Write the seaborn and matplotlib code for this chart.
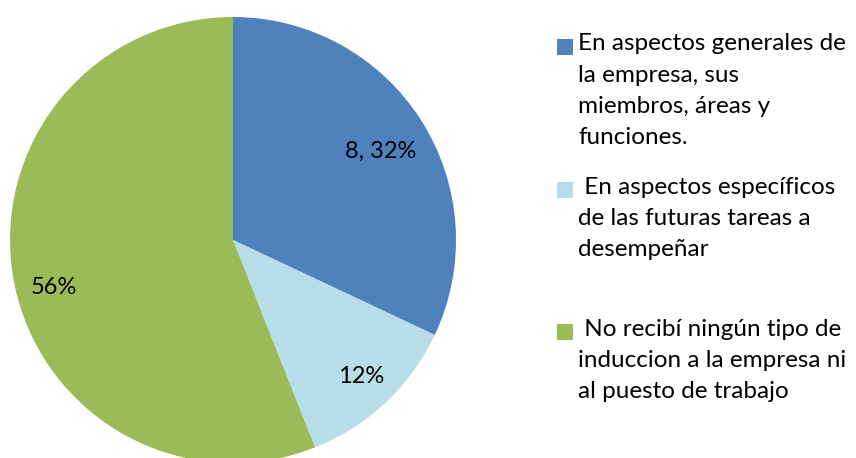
import matplotlib
matplotlib.use("Agg")
import matplotlib.pyplot as plt
import seaborn as sns
import numpy as np
from matplotlib.patches import Rectangle

# data
categorias = [
    "En aspectos generales de\nla empresa, sus\nmiembros, áreas y\nfunciones.",
    " En aspectos específicos\nde las futuras tareas a\ndesempeñar",
    " No recibí ningún tipo de\ninduccion a la empresa ni\nal puesto de trabajo",
]
porcentajes = [32, 12, 56]
etiquetas = ["8, 32%", "12%", "56%"]
colores = ["#4F81BD", "#B7DEE8", "#9BBB59"]

sns.set_style("white")
plt.rcParams["font.family"] = ["Lato", "DejaVu Sans"]

W, H = 856, 458
fig = plt.figure(figsize=(W / 100, H / 100), dpi=100)

# pie area: circle centre (233, 240), radius 223 px
cx, cy, r = 233, 240, 223
ax = fig.add_axes([(cx - r) / W, (H - cy - r) / H, 2 * r / W, 2 * r / H])
wedges, _ = ax.pie(porcentajes, colors=colores, startangle=90, counterclock=False,
                   radius=1, wedgeprops=dict(linewidth=0))
ax.set_xlim(-1, 1)
ax.set_ylim(-1, 1)
ax.set_aspect("auto")
ax.axis("off")

# percentage labels (distance from centre, small angle shift like Excel's placement)
dist = [0.77, 0.84, 0.83]
shift = [-1.5, 0.0, 4.0]
for w, lab, d, s in zip(wedges, etiquetas, dist, shift):
    ang = np.deg2rad((w.theta1 + w.theta2) / 2 + s)
    ax.text(d * np.cos(ang), d * np.sin(ang), lab, ha="center", va="center",
            fontsize=17, color="black")

# legend entries (first line centre y in px)
entradas_y = [46.5, 190, 332]
for txt, col, y in zip(categorias, colores, entradas_y):
    fig.patches.append(Rectangle((557 / W, 1 - (y + 8) / H), 16 / W, 16 / H,
                                 transform=fig.transFigure, facecolor=col,
                                 edgecolor="none"))
    fig.text(578 / W, 1 - (y - 13) / H, txt, ha="left", va="top",
             fontsize=17.5, linespacing=1.59, color="black")

fig.savefig("out.png", dpi=100)
